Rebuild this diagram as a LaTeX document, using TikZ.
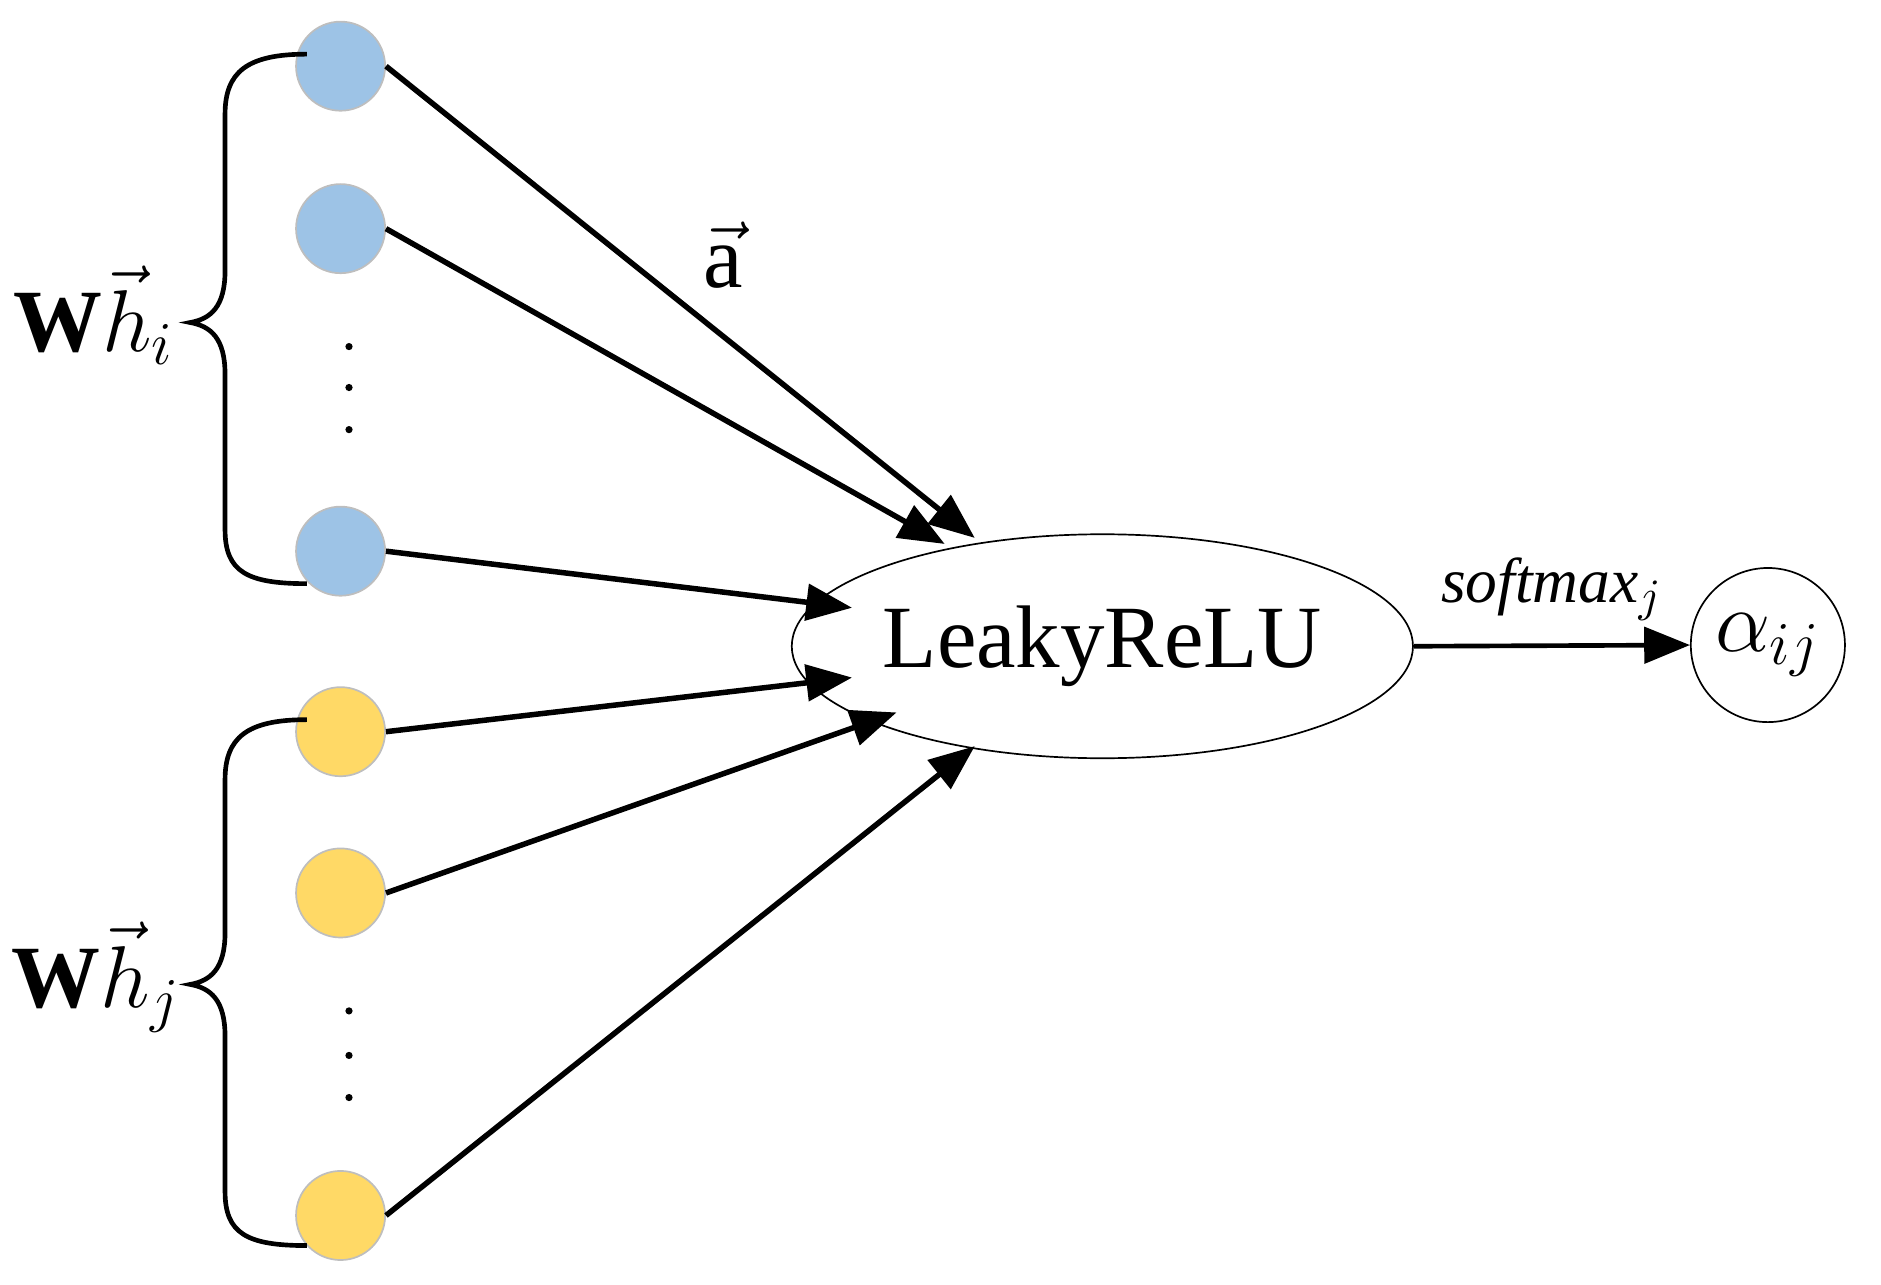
\documentclass[tikz,border=0pt]{standalone}
\usepackage{fontspec}
\setmainfont{Liberation Serif}
\usetikzlibrary{arrows.meta,shapes.geometric}
\begin{document}
\begin{tikzpicture}[x=0.01cm,y=-0.01cm,
  blue node/.style={circle,minimum size=0.74cm,inner sep=0pt,fill={rgb,255:red,157;green,195;blue,230},draw={rgb,255:red,190;green,190;blue,190}},
  yel node/.style={circle,minimum size=0.74cm,inner sep=0pt,fill={rgb,255:red,255;green,217;blue,102},draw={rgb,255:red,190;green,190;blue,190}},
  conn/.style={line width=1.3pt,-{Triangle[length=0.38cm,width=0.3cm]}},
  brace/.style={line width=1.1pt},
  dot/.style={circle,fill=black,inner sep=0pt,minimum size=0.06cm}]
\useasboundingbox (0,0) rectangle (1563,1067);
\node[blue node] (b1) at (283,55) {};
\node[blue node] (b2) at (283,190) {};
\node[blue node] (b3) at (283,458) {};
\node[yel node] (y1) at (283,608) {};
\node[yel node] (y2) at (283,742) {};
\node[yel node] (y3) at (283,1010) {};
\foreach \n/\yy in {d1/288,d2/322,d3/357,d4/840,d5/877,d6/912}
  \node[dot] (\n) at (290,\yy) {};
\node[ellipse,draw,minimum width=4.32cm,minimum height=1.86cm,inner sep=0pt,font=\fontsize{21}{24}\selectfont] (L) at (916,537) {LeakyReLU};
\node[circle,draw,minimum size=1.28cm,inner sep=0pt,font=\fontsize{22}{24}\selectfont] (A) at (1469,536) {$\alpha_{ij}$};
\draw[conn] (b1.east) -- (810,447);
\draw[conn] (b2.east) -- (785,452);
\draw[conn] (b3.east) -- (708,505);
\draw[conn] (y1.east) -- (708,563);
\draw[conn] (y2.east) -- (745,592);
\draw[conn] (y3.east) -- (810,620);
\draw[line width=1.1pt,-{Triangle[length=0.38cm,width=0.3cm]}] (L.east) -- (A.west) node[midway,above=2pt,font=\fontsize{15}{17}\selectfont] {\textit{softmax}$_j$};
\node[font=\fontsize{21}{24}\selectfont] (av) at (601,212) {$\vec{\textrm{a}}$};
\draw[brace] (255,45) .. controls (205,45) and (187,60) .. (187,95) -- (187,225) .. controls (187,255) and (175,265) .. (158,268) .. controls (175,271) and (187,281) .. (187,311) -- (187,440) .. controls (187,475) and (205,485) .. (255,485);
\draw[brace] (255,598) .. controls (205,598) and (187,613) .. (187,648) -- (187,775) .. controls (187,805) and (175,815) .. (158,818) .. controls (175,821) and (187,831) .. (187,861) -- (187,990) .. controls (187,1025) and (205,1035) .. (255,1035);
\node[font=\fontsize{21}{24}\selectfont] (wi) at (78,262) {$\mathbf{W}\vec{h}_i$};
\node[font=\fontsize{21}{24}\selectfont] (wj) at (80,812) {$\mathbf{W}\vec{h}_j$};
\end{tikzpicture}
\end{document}
